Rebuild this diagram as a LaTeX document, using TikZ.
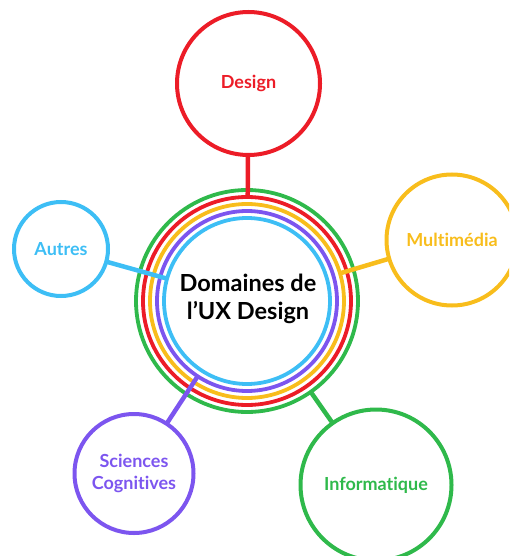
\documentclass[tikz,border=0pt]{standalone}
\usepackage{fontspec}
\setmainfont{Lato}[Ligatures={NoCommon}]
\definecolor{cred}{HTML}{EC1C27}
\definecolor{cgreen}{HTML}{2FB94B}
\definecolor{cyellow}{HTML}{F8BD1C}
\definecolor{cpurple}{HTML}{7C55EF}
\definecolor{cblue}{HTML}{3DBEF5}
\tikzset{
  ring/.style={circle, draw=#1, line width=3.8pt, inner sep=0pt, outer sep=0pt},
  topic/.style={circle, draw=#1, text=#1, line width=4pt, inner sep=0pt, outer sep=0pt,
    font=\bfseries\fontsize{18}{22}\selectfont, align=center},
  link/.style={draw=#1, line width=4.5pt}
}
\begin{document}
\begin{tikzpicture}[x=1pt,y=-1pt]
\useasboundingbox (0,0) rectangle (509,556);
\clip (0,0) rectangle (509,556);
% concentric rings
\node[ring=cgreen, minimum size=222pt] (rgreen) at (247,301) {};
\node[ring=cred, minimum size=208pt] (rred) at (247,301) {};
\node[ring=cyellow, minimum size=194pt] (ryellow) at (247,301) {};
\node[ring=cpurple, minimum size=180pt] (rpurple) at (247,301) {};
\node[ring=cblue, minimum size=166pt] (rblue) at (247,301) {};
\node[font=\bfseries\fontsize{23.5}{28}\selectfont, align=center, text=black] (title) at (248,299) {Domaines de\\l’UX Design};
% topics
\node[topic=cred, minimum size=143pt] (design) at (248.5,83.5) {Design};
\node[topic=cyellow, minimum size=131pt] (multi) at (452,240) {Multimédia};
\node[topic=cblue, minimum size=94pt] (autres) at (61,249) {Autres};
\node[topic=cpurple, minimum size=119pt] (sciences) at (134,473.5) {Sciences\\Cognitives};
\node[topic=cgreen, minimum size=151pt] (info) at (376,485) {Informatique};
% connectors
\draw[link=cred] (design) -- (rred);
\draw[link=cyellow] (multi) -- (ryellow);
\draw[link=cblue] (autres) -- (rblue);
\draw[link=cpurple] (sciences) -- (rpurple);
\draw[link=cgreen] (info) -- (rgreen);
\end{tikzpicture}
\end{document}
